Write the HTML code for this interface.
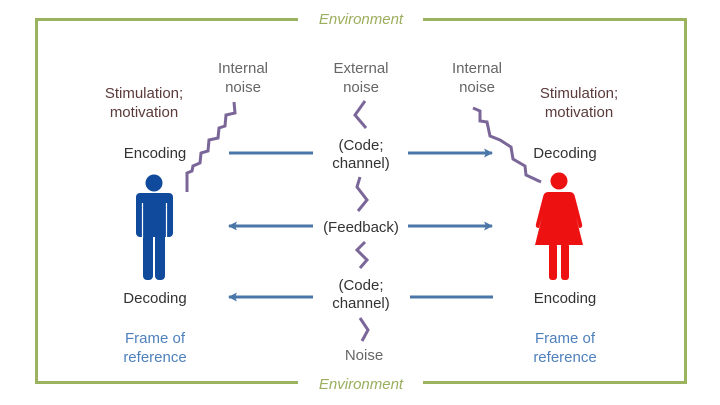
<!DOCTYPE html>
<html><head><meta charset="utf-8"><style>
html,body{margin:0;padding:0;background:#fff;}
svg{display:block;font-family:"Liberation Sans",sans-serif;}
</style></head><body>
<svg width="720" height="405" viewBox="0 0 720 405" xmlns="http://www.w3.org/2000/svg">
<defs>
<marker id="ah" markerWidth="9" markerHeight="9" refX="8" refY="4.5" orient="auto" markerUnits="userSpaceOnUse">
<path d="M0,0 L9,4.5 L0,9 L2,4.5 Z" fill="#4a76a8"/>
</marker>
</defs>
<g fill="none" stroke="#9bb35f" stroke-width="3">
<path d="M298,19.5 H36.5 V382.5 H298"/>
<path d="M423,19.5 H685.5 V382.5 H423"/>
</g>
<g font-style="italic" fill="#9aae5e" font-size="15" text-anchor="middle">
<text x="361" y="24">Environment</text>
<text x="361" y="389">Environment</text>
</g>
<g font-size="15" text-anchor="middle" fill="#333">
<text x="144" y="98" fill="#5b3a3a">Stimulation;</text>
<text x="144" y="117" fill="#5b3a3a">motivation</text>
<text x="579" y="98" fill="#5b3a3a">Stimulation;</text>
<text x="579" y="117" fill="#5b3a3a">motivation</text>
<text x="243" y="73" fill="#666">Internal</text>
<text x="243" y="92" fill="#666">noise</text>
<text x="477" y="73" fill="#666">Internal</text>
<text x="477" y="92" fill="#666">noise</text>
<text x="361" y="73" fill="#666">External</text>
<text x="361" y="92" fill="#666">noise</text>
<text x="155" y="158">Encoding</text>
<text x="565" y="158">Decoding</text>
<text x="361" y="150">(Code;</text>
<text x="361" y="168">channel)</text>
<text x="361" y="232">(Feedback)</text>
<text x="361" y="290">(Code;</text>
<text x="361" y="308">channel)</text>
<text x="155" y="303">Decoding</text>
<text x="565" y="303">Encoding</text>
<text x="155" y="343" fill="#4f81bd">Frame of</text>
<text x="155" y="362" fill="#4f81bd">reference</text>
<text x="565" y="343" fill="#4f81bd">Frame of</text>
<text x="565" y="362" fill="#4f81bd">reference</text>
<text x="364" y="360" fill="#666">Noise</text>
</g>
<g stroke="#4a76a8" stroke-width="3" fill="none">
<path d="M229,153 H313"/>
<path d="M408,153 H492" marker-end="url(#ah)"/>
<path d="M313,226 H229" marker-end="url(#ah)"/>
<path d="M408,226 H492" marker-end="url(#ah)"/>
<path d="M313,297 H229" marker-end="url(#ah)"/>
<path d="M410,297 H493"/>
</g>
<g stroke="#7a6698" stroke-width="3" fill="none" stroke-linejoin="miter">
<path d="M234,102 L235,113 L226,115 L225,126 L219,128 L218,138 L209,140 L208,151 L201,153 L200,163 L193,166 L192,171 L187,173 L187,192"/>
<path d="M473,108 L480,111 L480,121 L487,122 L490,136 L500,140 L511,147 L513,159 L525,166 L526,175 L541,182"/>
<path d="M365,101 L355,115 L366,128"/>
<path d="M360,177 L357,187 L367,200 L358,211"/>
<path d="M365,242 L357,250 L367,260 L360,268"/>
<path d="M360,318 L368,330 L362,341"/>
</g>
<g fill="#0f4a9c">
<circle cx="154" cy="183" r="8.5"/>
<rect x="136" y="193" width="37" height="44" rx="4"/>
<rect x="143" y="230" width="10" height="50" rx="4"/>
<rect x="155" y="230" width="10" height="50" rx="4"/>
</g>
<g stroke="#fff" stroke-width="1.2">
<path d="M142.5,203 V238"/>
<path d="M166.5,203 V238"/>
</g>
<g fill="#ee1111">
<circle cx="559" cy="181" r="8.5"/>
<path d="M548,192 H570 Q574,192 575,197 L582,224 Q583,228 579,228 L576,217 L583,245 H535 L542,217 L539,228 Q535,228 536,224 L543,197 Q544,192 548,192 Z"/>
<rect x="549" y="243" width="8" height="37" rx="3"/>
<rect x="561" y="243" width="8" height="37" rx="3"/>
</g>
</svg>
</body></html>
